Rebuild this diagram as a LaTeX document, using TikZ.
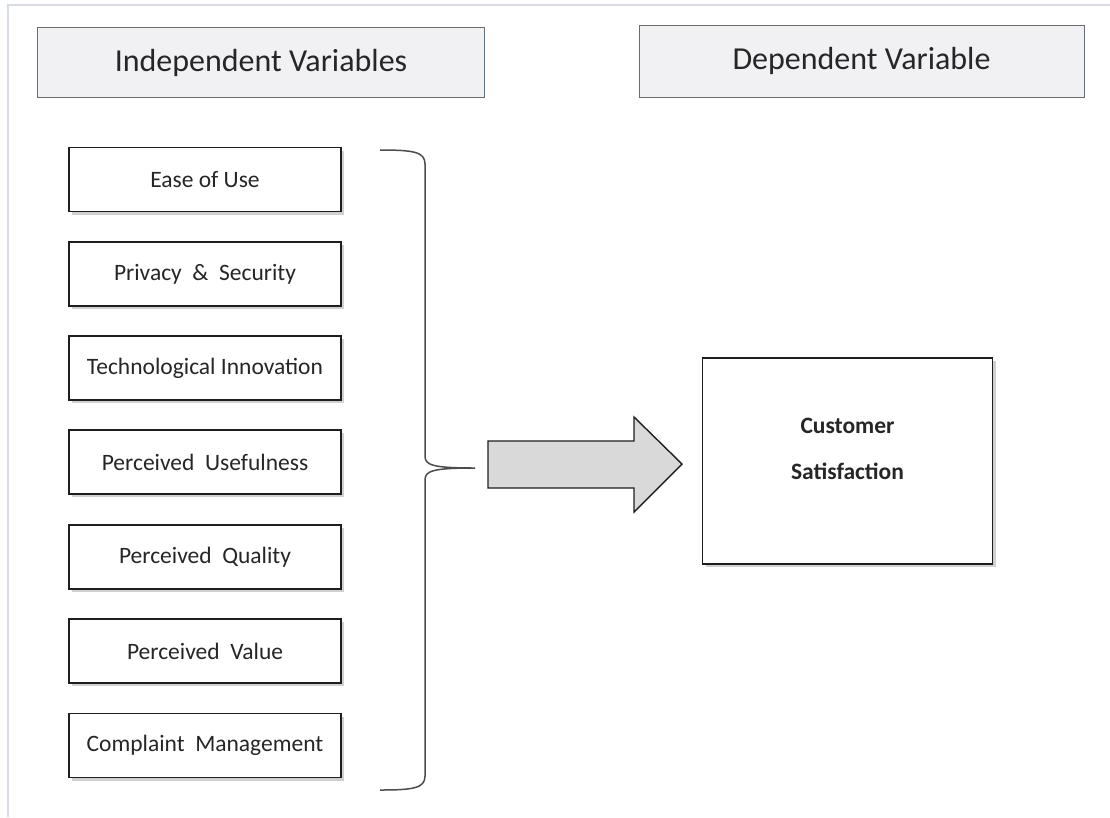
\documentclass[tikz,border=0pt]{standalone}
\usepackage{fontspec}
\setmainfont{Carlito}
\usetikzlibrary{shadows}
\definecolor{framecol}{HTML}{D5DCE6}
\definecolor{headfill}{HTML}{F1F1F3}
\definecolor{headdraw}{HTML}{5F6E7E}
\definecolor{arrowfill}{HTML}{D9D9D9}
\definecolor{boxdraw}{HTML}{1E1E1E}
\definecolor{txt}{HTML}{262626}
\begin{document}
\begin{tikzpicture}[x=1pt,y=-1pt,
  headbox/.style={draw=headdraw,line width=1pt,fill=headfill,minimum width=447pt,minimum height=70pt,inner sep=0pt,font=\fontsize{32}{37}\selectfont,text=txt},
  varbox/.style={draw=boxdraw,line width=1.4pt,fill=white,minimum width=272pt,minimum height=64pt,inner sep=0pt,font=\fontsize{23.5}{28}\selectfont,text=txt,
    drop shadow={shadow xshift=3pt,shadow yshift=-3pt,opacity=0.3,fill=black!60}},
  bracestyle/.style={draw=black!70,line width=1.5pt},
  blockarrow/.style={draw=boxdraw,line width=1.4pt,fill=arrowfill}]
\useasboundingbox (0,0) rectangle (1110,817);
\fill[white] (0,0) rectangle (1110,817);
% frame
\draw[framecol,line width=2pt] (8,817) -- (8,5) -- (1110,5);
% headers
\node[headbox] (ind) at (261,62.5) {Independent Variables};
\node[headbox,minimum width=445pt,minimum height=72pt] (dep) at (861.5,61) {Dependent Variable};
% variable boxes
\node[varbox] (v1) at (205,179.5) {Ease of Use};
\node[varbox] (v2) at (205,274) {Privacy \ \& \ Security};
\node[varbox] (v3) at (205,368) {Technological Innovation};
\node[varbox] (v4) at (205,462) {Perceived \ Usefulness};
\node[varbox] (v5) at (205,557) {Perceived \ Quality};
\node[varbox] (v6) at (205,651) {Perceived \ Value};
\node[varbox] (v7) at (205,745.5) {Complaint \ Management};
% dependent box
\node[varbox,minimum width=290pt,minimum height=206pt] (cs) at (847.5,461) {};
\node[font=\fontsize{23.5}{46}\selectfont\bfseries,text=txt,align=center] (cstext) at (847.5,449) {Customer\\Satisfaction};
% brace
\coordinate (btop) at (380,150);
\coordinate (bbot) at (380,790);
\coordinate (btip) at (475,468);
\draw[bracestyle] (btop) .. controls (414,150) and (425,152) .. (425,164) -- (425,456)
  .. controls (425,465) and (432,468) .. (btip)
  .. controls (432,468) and (425,471) .. (425,480) -- (425,776)
  .. controls (425,788) and (414,790) .. (bbot);
% block arrow
\coordinate (atip) at (682,464);
\draw[blockarrow] (488,441) -- (634,441) -- (634,417) -- (atip) -- (634,512) -- (634,488) -- (488,488) -- cycle;
\end{tikzpicture}
\end{document}
